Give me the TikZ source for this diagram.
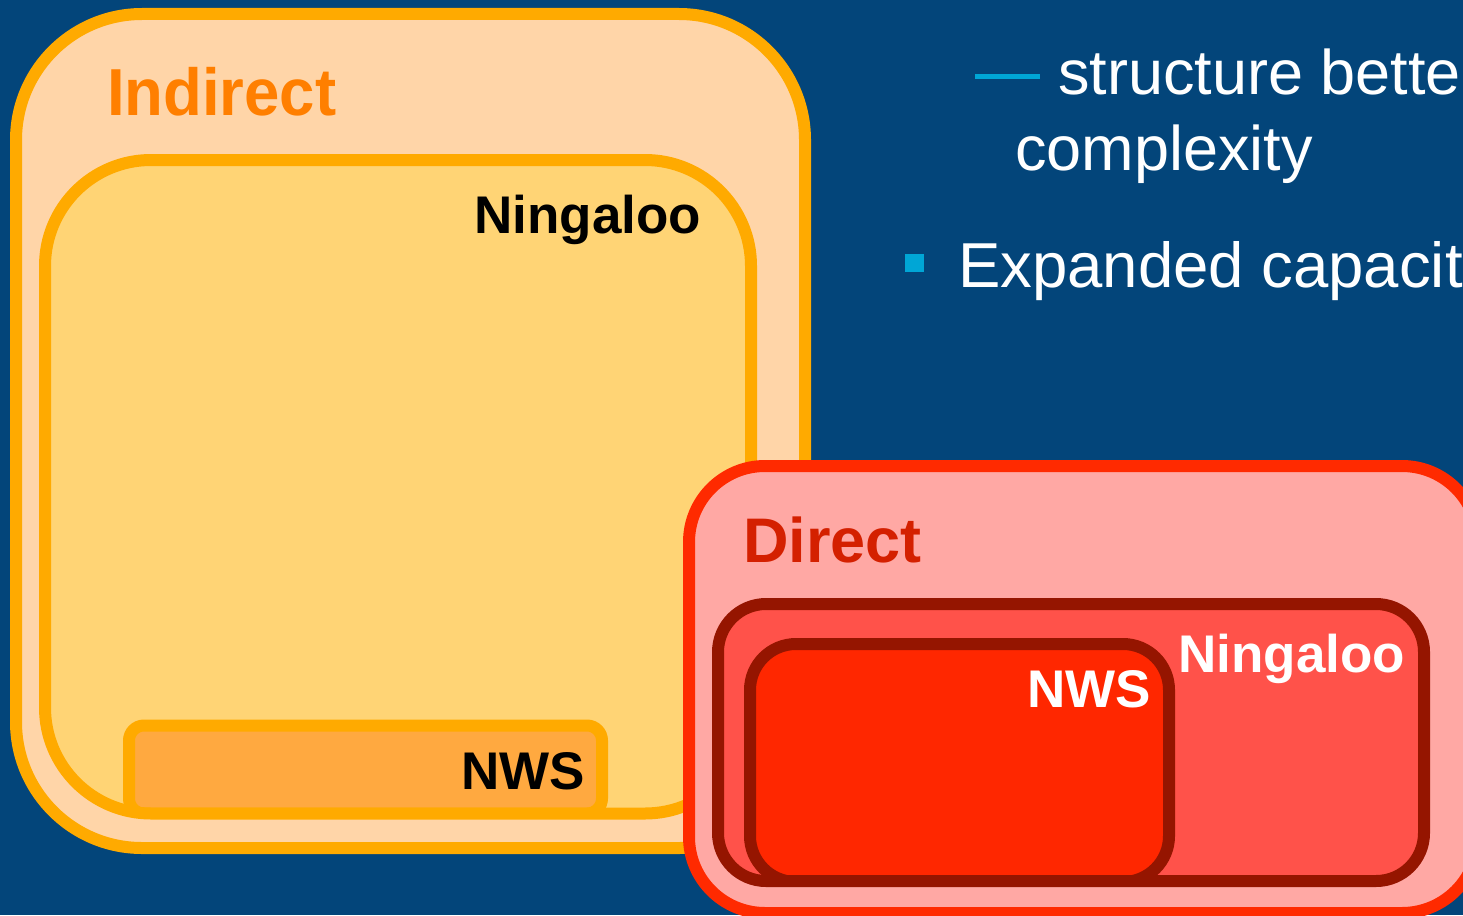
\documentclass[tikz,border=0pt]{standalone}
\usepackage{fontspec}
\setmainfont{Liberation Sans}
\newfontfamily\narrowfamily{Liberation Sans}[FakeStretch=0.955]

\definecolor{navy}{HTML}{03457A}
\definecolor{amber}{HTML}{FFAA00}
\definecolor{peach}{HTML}{FFD5A8}
\definecolor{sand}{HTML}{FFD475}
\definecolor{tangerine}{HTML}{FFA940}
\definecolor{indtext}{HTML}{FF7F00}
\definecolor{pinkfill}{HTML}{FFA8A4}
\definecolor{scarlet}{HTML}{FF2A00}
\definecolor{dirtext}{HTML}{D42000}
\definecolor{salmon}{HTML}{FF524A}
\definecolor{maroon}{HTML}{951500}
\definecolor{vermilion}{HTML}{FF2700}
\definecolor{bulletcyan}{HTML}{00A6D6}

\newcommand\boldsize[1]{\fontsize{#1}{#1}\selectfont\bfseries}
\newcommand\plainsize[1]{\fontsize{#1}{#1}\selectfont}

\tikzset{
  box/.style={line width=12pt, line join=round},
  txt/.style={inner sep=0pt, outer sep=0pt},
  indirectbox/.style={box, draw=amber, fill=peach},
  indnws/.style={box, draw=amber, fill=tangerine},
  directbox/.style={box, draw=scarlet, fill=pinkfill},
  dirnws/.style={box, draw=maroon, fill=vermilion},
}

\begin{document}
\begin{tikzpicture}[x=1pt, y=-1pt]
  \useasboundingbox (0,0) rectangle (1463,915);
  \clip (0,0) rectangle (1463,915);
  \fill[navy] (0,0) rectangle (1463,915);

  % ---- Indirect group ----
  \draw[indirectbox, rounded corners=126pt] (16,14) rectangle (805,848);
  \fill[sand, rounded corners=106pt] (45,160) rectangle (751,813.5);
  \begin{scope}
    \clip[rounded corners=106pt] (45,160) rectangle (751,813.5);
    \draw[indnws, rounded corners=15pt] (129,725.5) rectangle (602,813.5);
  \end{scope}
  \draw[box, draw=amber, rounded corners=106pt] (45,160) rectangle (751,813.5);

  \node[txt, anchor=base west, text=indtext] (indirect) at (107,116) {\narrowfamily\boldsize{66.5pt}Indirect};
  \node[txt, anchor=base east, text=black] (ningIndirect) at (701,233) {\boldsize{53pt}Ningaloo};
  \node[txt, anchor=base east, text=black] (nwsIndirect) at (585,789) {\boldsize{53pt}NWS};

  % ---- Direct group ----
  \draw[directbox, rounded corners=76pt] (689,466) rectangle (1478,913);
  \fill[salmon, rounded corners=48pt] (718,604) rectangle (1424,881);
  \begin{scope}
    \clip[rounded corners=48pt] (718,604) rectangle (1424,881);
    \draw[dirnws, rounded corners=46pt] (750,644) rectangle (1169,882);
  \end{scope}
  \draw[box, draw=maroon, rounded corners=48pt] (718,604) rectangle (1424,881);

  \node[txt, anchor=base west, text=dirtext] (direct) at (743,562) {\boldsize{63pt}Direct};
  \node[txt, anchor=base east, text=white] (ningDirect) at (1405,672) {\boldsize{53pt}Ningaloo};
  \node[txt, anchor=base east, text=white] (nwsDirect) at (1151,707) {\boldsize{53pt}NWS};

  % ---- Bullet text ----
  \coordinate (dashL) at (975,76.5);
  \coordinate (dashR) at (1040,76.5);
  \draw[bulletcyan, line width=5pt] (dashL) -- (dashR);
  \node[txt, anchor=base west, text=white] (line1) at (1058,95) {\plainsize{63pt}structure bette};
  \node[txt, anchor=base west, text=white] (line2) at (1015,170) {\plainsize{63pt}complexity};
  \fill[bulletcyan] (905,254) rectangle (924,272);
  \node[txt, anchor=base west, text=white] (line3) at (958,287) {\plainsize{63.5pt}Expanded capacit};
\end{tikzpicture}
\end{document}
